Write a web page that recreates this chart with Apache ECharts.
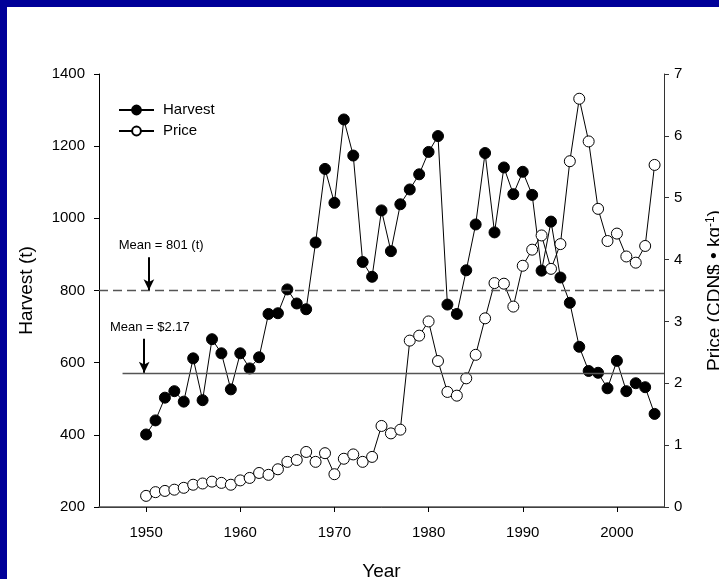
<!DOCTYPE html>
<html>
<head>
<meta charset="utf-8">
<script src="https://cdn.jsdelivr.net/npm/echarts@6/dist/echarts.min.js"></script>
<style>
html,body{margin:0;padding:0;background:#000099;width:719px;height:579px;overflow:hidden;}
#chart{position:absolute;left:7px;top:7px;width:712px;height:572px;background:#fff;}
</style>
</head>
<body>
<div id="chart"></div>
<script>
var years = [];
for (var y = 1950; y <= 2004; y++) years.push(y);
var harvest = [401,440,503,521,492,612,496,665,626,526,626,584,615,735,737,803,764,748,933,1137,
  1043,1274,1174,879,838,1022,909,1039,1080,1122,1184,1228,761,735,856,983,1181,961,1141,1067,
  1129,1065,855,991,836,766,644,577,572,529,605,521,543,532,458];
var price = [0.18,0.24,0.26,0.28,0.31,0.36,0.38,0.41,0.39,0.36,0.43,0.47,0.55,0.52,0.61,0.73,0.76,0.89,0.73,0.87,
  0.53,0.78,0.85,0.73,0.81,1.31,1.19,1.25,2.69,2.77,3.00,2.36,1.86,1.80,2.08,2.46,3.05,3.62,3.61,3.24,
  3.90,4.16,4.39,3.85,4.25,5.59,6.60,5.91,4.82,4.30,4.42,4.05,3.95,4.22,5.53];
var xTicks = [1950,1960,1970,1980,1990,2000];
var meanHarvest = 801;
var meanPrice = 2.17;
var meanPriceStart = 1947.5;
var harvestArrow = {year: 1950.3, from: 892};
var priceArrow = {year: 1949.8, from: 2.72};
var harvestNote = {text: 'Mean = 801 (t)', year: 1951.6, value: 926};
var priceNote = {text: 'Mean = $2.17', year: 1950.4, value: 2.90};

var FONT = 'Liberation Sans, Arial, sans-serif';
var chart = echarts.init(document.getElementById('chart'), null, {renderer: 'canvas'});
function pairs(xs, ys){ return xs.map(function(x,i){ return [x, ys[i]]; }); }

var option = {
  animation: false,
  backgroundColor: '#ffffff',
  textStyle: {fontFamily: FONT, color: '#000'},
  grid: {left: 92, right: 55, top: 67, bottom: 72, containLabel: false, outerBoundsMode: 'none'},
  legend: {
    orient: 'vertical', left: 111, top: 95.5, padding: 0,
    itemWidth: 35, itemHeight: 11, itemGap: 6,
    textStyle: {fontSize: 15, color: '#000', fontFamily: FONT, padding: [0, 0, 0, 4]},
    data: ['Harvest', 'Price']
  },
  xAxis: [{
    type: 'value', min: 1945, max: 2005,
    name: 'Year', nameLocation: 'middle', nameGap: 55,
    nameTextStyle: {fontSize: 19, color: '#000', fontFamily: FONT},
    axisLine: {show: true, onZero: false, lineStyle: {color: '#000', width: 1}},
    axisTick: {show: true, length: 5, customValues: xTicks, lineStyle: {color: '#000'}},
    axisLabel: {customValues: xTicks, fontSize: 15, color: '#000', margin: 18, fontFamily: FONT,
      formatter: function(v){ return String(v); }},
    splitLine: {show: false}
  }, {
    type: 'value', min: 1945, max: 2005, position: 'top',
    axisLine: {show: true, lineStyle: {color: '#555', width: 1.5}},
    axisTick: {show: false}, axisLabel: {show: false}, splitLine: {show: false}
  }],
  yAxis: [{
    type: 'value', min: 200, max: 1400, interval: 200,
    name: 'Harvest (t)', nameLocation: 'middle', nameGap: 63, nameRotate: 90,
    nameTextStyle: {fontSize: 19, color: '#000', fontFamily: FONT},
    axisLine: {show: true, lineStyle: {color: '#000', width: 1}},
    axisTick: {show: true, length: 5, lineStyle: {color: '#000'}},
    axisLabel: {fontSize: 15, color: '#000', margin: 14, fontFamily: FONT,
      formatter: function(v){ return String(v); }},
    splitLine: {show: false}
  }, {
    type: 'value', min: 0, max: 7, interval: 1, position: 'right',
    name: '{a|Price (CDN$ • kg}{s|-1}{a|)}', nameLocation: 'middle', nameGap: 41, nameRotate: 90,
    nameTextStyle: {fontSize: 19, color: '#000', fontFamily: FONT,
      rich: {a: {fontSize: 19, fontFamily: FONT, color: '#000'},
             s: {fontSize: 12, fontFamily: FONT, color: '#000', verticalAlign: 'top', padding: [0,0,8,0]}}},
    axisLine: {show: true, lineStyle: {color: '#333', width: 1}},
    axisTick: {show: true, length: 5, lineStyle: {color: '#333'}},
    axisLabel: {fontSize: 15, color: '#000', margin: 10, fontFamily: FONT,
      formatter: function(v){ return String(v); }},
    splitLine: {show: false}
  }],
  series: [{
    name: 'Harvest', type: 'line', xAxisIndex: 0, yAxisIndex: 0,
    data: pairs(years, harvest),
    symbol: 'circle', symbolSize: 11,
    itemStyle: {color: '#000', borderColor: '#000', borderWidth: 1},
    lineStyle: {color: '#000', width: 1},
    z: 3,
    markLine: {
      silent: true, animation: false,
      symbol: ['none', 'none'],
      label: {show: false},
      data: [
        {yAxis: meanHarvest, lineStyle: {type: [9, 5], color: '#555', width: 1.3}},
        [{coord: [harvestArrow.year, harvestArrow.from], symbol: 'none', lineStyle: {color: '#000', width: 2, type: 'solid'}},
         {coord: [harvestArrow.year, meanHarvest], symbol: 'arrow', symbolSize: [8, 11]}]
      ]
    },
    markPoint: {
      silent: true, symbol: 'circle', symbolSize: 0,
      label: {show: true, position: 'inside', color: '#000', fontSize: 13, fontFamily: FONT},
      data: [{coord: [harvestNote.year, harvestNote.value], value: harvestNote.text,
              label: {formatter: harvestNote.text}}]
    }
  }, {
    name: 'Price', type: 'line', xAxisIndex: 0, yAxisIndex: 1,
    data: pairs(years, price),
    symbol: 'circle', symbolSize: 11,
    itemStyle: {color: '#fff', borderColor: '#000', borderWidth: 1},
    lineStyle: {color: '#000', width: 1},
    z: 4,
    markLine: {
      silent: true, animation: false,
      symbol: ['none', 'none'],
      label: {show: false},
      data: [
        [{coord: [meanPriceStart, meanPrice], lineStyle: {color: '#555', width: 1.3, type: 'solid'}},
         {coord: [2005, meanPrice]}],
        [{coord: [priceArrow.year, priceArrow.from], symbol: 'none', lineStyle: {color: '#000', width: 2, type: 'solid'}},
         {coord: [priceArrow.year, meanPrice], symbol: 'arrow', symbolSize: [8, 11]}]
      ]
    },
    markPoint: {
      silent: true, symbol: 'circle', symbolSize: 0,
      label: {show: true, position: 'inside', color: '#000', fontSize: 13, fontFamily: FONT},
      data: [{coord: [priceNote.year, priceNote.value], value: priceNote.text,
              label: {formatter: priceNote.text}}]
    }
  }]
};
chart.setOption(option);
</script>
</body>
</html>
